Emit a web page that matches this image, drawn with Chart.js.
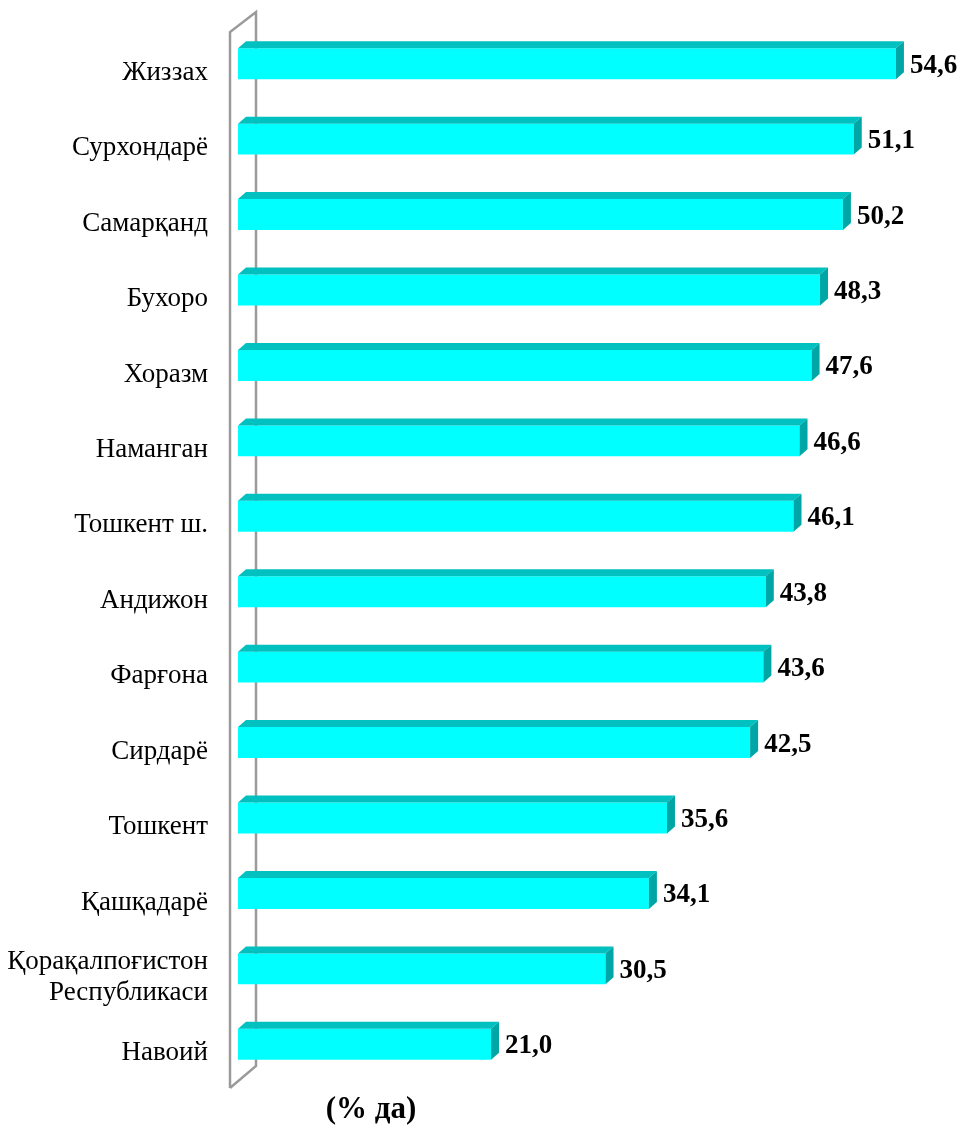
<!DOCTYPE html>
<html>
<head>
<meta charset="utf-8">
<script src="https://cdn.jsdelivr.net/npm/chart.js@4/dist/chart.umd.min.js"></script>
<style>
  body { margin: 0; background: #fff; }
  #wrap { width: 961px; height: 1126px; position: relative; }
</style>
</head>
<body>
<div id="wrap"><canvas id="regionChart"></canvas></div>
<script>
// Regions, top to bottom
const regions = [
    'Жиззах', 'Сурхондарё', 'Самарқанд', 'Бухоро', 'Хоразм', 'Наманган',
    'Тошкент ш.', 'Андижон', 'Фарғона', 'Сирдарё', 'Тошкент', 'Қашқадарё',
    ['Қорақалпоғистон', 'Республикаси'], 'Навоий'
];
const shares = [54.6, 51.1, 50.2, 48.3, 47.6, 46.6, 46.1, 43.8, 43.6, 42.5, 35.6, 34.1, 30.5, 21.0];
const axisMin = 0;
const axisMax = 60;
const unitLabel = '(% да)';

const DX = 8, DY = 7; // bar depth

// Grey side wall behind the bars
const wallPlugin = {
    id: 'wall',
    beforeDatasetsDraw(chart) {
        const { ctx, chartArea } = chart;
        const fx = chartArea.left - 8, ft = chartArea.top + 6, fb = chartArea.bottom + 6;
        const bx = fx + 26, bt = ft - 20, bb = fb - 22;
        ctx.save();
        ctx.strokeStyle = '#9a9a9a';
        ctx.lineWidth = 2.5;
        ctx.beginPath();
        ctx.moveTo(fx, fb); ctx.lineTo(fx, ft); ctx.lineTo(bx, bt); ctx.lineTo(bx, bb); ctx.lineTo(fx, fb);
        ctx.stroke();
        ctx.restore();
    }
};

// Top and side faces + value labels
const bar3dPlugin = {
    id: 'bar3d',
    afterDatasetsDraw(chart) {
        const ctx = chart.ctx;
        const meta = chart.getDatasetMeta(0);
        ctx.save();
        meta.data.forEach((bar, i) => {
            const top = bar.y - bar.height / 2;
            const bottom = bar.y + bar.height / 2;
            const left = bar.base;
            const right = bar.x;
            // top face
            ctx.fillStyle = '#00c0c0';
            ctx.beginPath();
            ctx.moveTo(left, top); ctx.lineTo(left + DX, top - DY);
            ctx.lineTo(right + DX, top - DY); ctx.lineTo(right, top);
            ctx.closePath(); ctx.fill();
            // side face
            ctx.fillStyle = '#00a6a6';
            ctx.beginPath();
            ctx.moveTo(right, top); ctx.lineTo(right + DX, top - DY);
            ctx.lineTo(right + DX, bottom - DY); ctx.lineTo(right, bottom);
            ctx.closePath(); ctx.fill();
            // value
            ctx.fillStyle = '#000';
            ctx.font = 'bold 27px "Liberation Serif", "Times New Roman", serif';
            ctx.textAlign = 'left';
            ctx.textBaseline = 'middle';
            ctx.fillText(shares[i].toFixed(1).replace('.', ','), right + DX + 6, bar.y + 2);
        });
        ctx.restore();
    },
    afterDraw(chart) {
        const ctx = chart.ctx;
        ctx.save();
        ctx.fillStyle = '#000';
        ctx.font = 'bold 31px "Liberation Serif", "Times New Roman", serif';
        ctx.textAlign = 'center';
        ctx.textBaseline = 'middle';
        ctx.fillText(unitLabel, 371, 1110);
        ctx.restore();
    }
};

window.onload = () => {
    const ctx = document.getElementById('regionChart').getContext('2d');
    new Chart(ctx, {
        type: 'bar',
        data: {
            labels: regions,
            datasets: [{
                data: shares,
                backgroundColor: '#00ffff',
                borderWidth: 0,
                categoryPercentage: 1,
                barPercentage: 0.41
            }]
        },
        options: {
            indexAxis: 'y',
            responsive: true,
            maintainAspectRatio: false,
            animation: false,
            layout: { padding: { top: 26, bottom: 44, left: 0, right: 0 } },
            plugins: {
                legend: { display: false },
                tooltip: { enabled: false }
            },
            scales: {
                x: {
                    display: false,
                    min: axisMin,
                    max: axisMax
                },
                y: {
                    grid: { display: false, drawTicks: false },
                    border: { display: false },
                    afterFit(scale) {
                        scale.width = 238;
                        scale.paddingTop = 0;
                        scale.paddingBottom = 0;
                    },
                    ticks: {
                        padding: 30,
                        labelOffset: 9,
                        color: '#000',
                        font: { family: '"Liberation Serif", "Times New Roman", serif', size: 27, lineHeight: 1.15 }
                    }
                }
            }
        },
        plugins: [wallPlugin, bar3dPlugin]
    });
};
</script>
</body>
</html>
